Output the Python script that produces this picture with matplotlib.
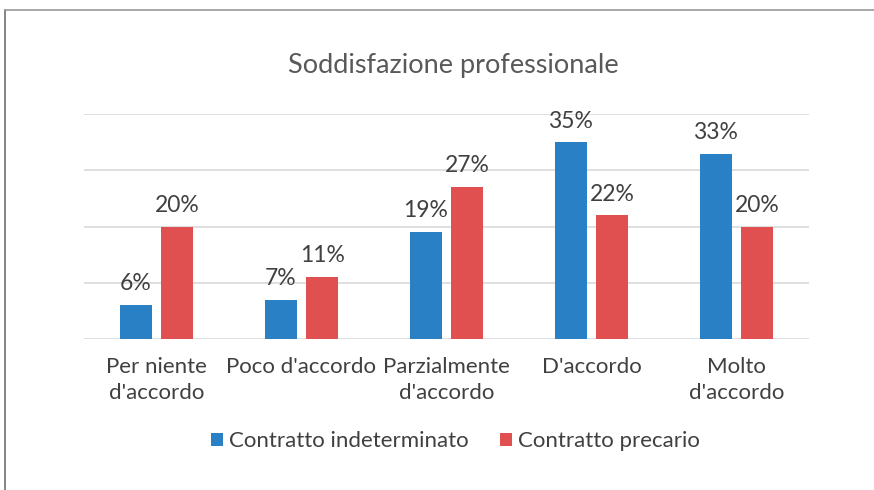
import numpy as np
import matplotlib.pyplot as plt
from matplotlib.lines import Line2D

categories = ["Per niente\nd'accordo", "Poco d'accordo", "Parzialmente\nd'accordo", "D'accordo", "Molto\nd'accordo"]
indeterminato = [6, 7, 19, 35, 33]
precario = [20, 11, 27, 22, 20]
series_names = ["Contratto indeterminato", "Contratto precario"]

plt.rcParams['font.family'] = ['Lato', 'DejaVu Sans']
text_color = '#404040'
title_color = '#595959'
blue = '#2A80C4'
red = '#E05050'

fig = plt.figure(figsize=(8.74, 4.90), dpi=100)
ax = fig.add_axes([84 / 874, 0.3082, 725 / 874, 0.4585])

x = np.arange(len(categories))
w = 0.22
off = 0.143
b1 = ax.bar(x - off, indeterminato, w, color=blue, label=series_names[0], zorder=3)
b2 = ax.bar(x + off, precario, w, color=red, label=series_names[1], zorder=3)

for bars, vals in ((b1, indeterminato), (b2, precario)):
    for b, v in zip(bars, vals):
        ax.text(b.get_x() + b.get_width() / 2, v + 2.65, f"{v}%", ha='center', va='baseline',
                fontsize=16.5, color=text_color)

ax.set_xlim(-0.5, len(categories) - 0.5)
ax.set_ylim(0, 40)
ax.set_yticks([0, 10, 20, 30, 40])
ax.yaxis.grid(True, color='#d9d9d9', lw=1.2, zorder=0)
ax.tick_params(axis='y', length=0, labelleft=False)
ax.set_xticks(x)
ax.set_xticklabels(categories, fontsize=16, color=text_color, linespacing=1.4)
ax.tick_params(axis='x', length=0, pad=13)
for s in ax.spines.values():
    s.set_visible(False)

fig.text(453 / 874, 0.867, "Soddisfazione professionale", ha='center', va='center',
         fontsize=19.5, color=title_color)

fig.legend(handles=[b1, b2], labels=series_names, loc='center', bbox_to_anchor=(0.521, 0.099),
           ncol=2, frameon=False, fontsize=16, labelcolor=text_color,
           handlelength=0.55, handleheight=0.55, handletextpad=0.25, columnspacing=1.4)

# chart frame (only top and left edges visible in the crop)
fig.add_artist(Line2D([5 / 874, 5 / 874], [0, 1 - 10 / 490], color='#707070', lw=1.2))
fig.add_artist(Line2D([5 / 874, 1], [1 - 10 / 490, 1 - 10 / 490], color='#9a9a9a', lw=1.2))

fig.savefig('out.png', dpi=100, facecolor='white')
